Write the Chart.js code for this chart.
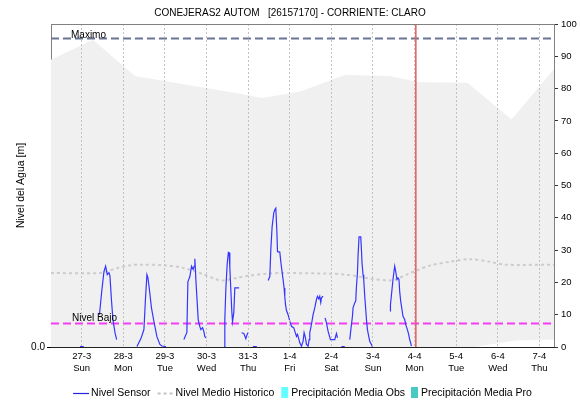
<!DOCTYPE html>
<html>
<head>
<meta charset="utf-8">
<script src="https://cdn.jsdelivr.net/npm/chart.js@4.4.1/dist/chart.umd.min.js"></script>
<style>
  html, body { margin: 0; padding: 0; background: #fff; }
  #wrap { width: 580px; height: 405px; position: relative; }
</style>
</head>
<body>
<div id="wrap"><canvas id="nivelChart"></canvas></div>
<script>
// dias desde 27-3 00:00
const dayLabels = ['27-3', '28-3', '29-3', '30-3', '31-3', '1-4', '2-4', '3-4', '4-4', '5-4', '6-4', '7-4'];
const weekDays = ['Sun', 'Mon', 'Tue', 'Wed', 'Thu', 'Fri', 'Sat', 'Sun', 'Mon', 'Tue', 'Wed', 'Thu'];
const dayMin = -0.737;
const dayMax = 11.35;
const nowDay = 8.03;
const rightTicks = [0, 10, 20, 30, 40, 50, 60, 70, 80, 90, 100];

const nivelMaximo = 95.5;
const nivelBajo = 7.3;

// sensor (null = sin dato)
const sensorDays = [
  -0.04, 0.05, 0.05,
  0.427, 0.487, 0.535, 0.576, 0.615, 0.655, 0.679, 0.715, 0.751, 0.80, 0.84, 0.84,
  1.328, 1.424, 1.496, 1.532, 1.568, 1.592, 1.628, 1.676, 1.736, 1.808, 1.88, 1.928, 2.024, 2.024,
  2.456, 2.528, 2.552, 2.60, 2.641, 2.679, 2.703, 2.72, 2.744, 2.768, 2.80, 2.84, 2.864, 2.905, 2.936, 2.96, 3.0, 3.0,
  3.424, 3.44, 3.464, 3.496, 3.525, 3.544, 3.56, 3.584, 3.608, 3.625, 3.656, 3.68, 3.784, 3.784,
  3.842, 3.897, 3.945, 3.976, 4.0, 4.0,
  4.113, 4.209, 4.209,
  4.48, 4.521, 4.545, 4.576, 4.617, 4.641, 4.665, 4.689, 4.706, 4.761, 4.785, 4.816, 4.84, 4.864, 4.881,
  4.898, 4.922, 4.96, 5.001, 5.042, 5.097, 5.121, 5.162, 5.186, 5.217, 5.241, 5.282, 5.321, 5.345, 5.378,
  5.402, 5.441, 5.465, 5.481, 5.522, 5.561, 5.601, 5.642, 5.666, 5.697, 5.721, 5.745, 5.762, 5.801, 5.801,
  5.849, 5.882, 5.921, 5.978, 6.082, 6.122, 6.146, 6.146,
  6.242, 6.322, 6.322,
  6.442, 6.483, 6.507, 6.521, 6.562, 6.586, 6.603, 6.627, 6.641, 6.665, 6.706, 6.723, 6.737, 6.761, 6.778,
  6.802, 6.826, 6.843, 6.867, 6.898, 6.922, 6.963, 6.987, 6.987,
  7.419, 7.42, 7.457, 7.481, 7.505, 7.522, 7.546, 7.577, 7.601, 7.625, 7.642, 7.666, 7.697, 7.721, 7.762,
  7.786, 7.827, 7.858, 7.882, 7.906, 7.923
];
const sensorLevel = [
  0.15, 0.15, null,
  10.0, 17.8, 23.3, 25.0, 22.4, 23.0, 22.1, 14.7, 8.5, 4.5, 2.3, null,
  0.15, 2.6, 5.4, 14.7, 22.4, 21.5, 17.8, 12.2, 7.9, 3.2, 0.8, 0.3, 0.15, null,
  2.3, 4.5, 20.2, 21.8, 25.0, 24.0, 25.0, 27.3, 20.9, 15.6, 8.5, 6.3, 5.4, 6.0, 4.8, 3.2, 2.8, null,
  0.15, 8.5, 17.8, 25.5, 29.3, 29.2, 24.6, 17.8, 11.0, 7.9, 10.7, 18.3, 18.3, null,
  4.4, 4.2, 2.6, 3.9, 4.5, null,
  0.15, 0.15, null,
  20.6, 21.8, 30.1, 37.2, 41.6, 42.5, 43.0, 36.3, 29.5, 29.4, 26.4, 23.3, 20.9, 18.3, 15.6,
  13.1, 11.3, 10.0, 8.0, 6.4, 5.9, 4.9, 3.3, 3.9, 2.5, 1.3, 0.25, 1.8, 4.4, 2.8,
  0.8, 0.25, 2.3, 4.4, 7.0, 10.0, 12.1, 14.7, 15.7, 14.9, 15.7, 13.8, 15.2, 15.7, null,
  9.0, 7.5, 4.9, 2.3, 2.3, 4.2, 2.8, null,
  0.1, 0.1, null,
  2.3, 7.0, 9.5, 12.1, 13.7, 14.2, 18.8, 22.9, 28.1, 34.1, 34.1, 30.1, 26.0, 22.4, 20.9,
  15.7, 11.6, 8.5, 5.4, 3.3, 1.8, 0.8, 0.1, null,
  11.1, 13.1, 17.8, 20.9, 23.4, 25.0, 23.4, 20.9, 21.4, 20.9, 17.2, 14.2, 11.6, 9.5, 8.5,
  7.0, 5.4, 3.9, 2.3, 1.3, 0.25
];

// nivel medio historico
const histDays = [-0.737, 0.439, 0.631, 0.848, 1.16, 1.40, 2.0, 2.432, 2.84, 3.225, 3.417, 3.73, 4.04, 4.45,
  4.833, 5.961, 6.37, 6.61, 6.922, 7.402, 7.57, 7.81, 8.05, 8.362, 8.842, 9.322, 9.802, 10.163, 11.35];
const histMean = [22.9, 22.9, 23.5, 24.4, 25.3, 25.5, 25.3, 24.5, 22.9, 21.0, 20.6, 21.4, 22.1, 22.7,
  22.9, 22.7, 22.4, 21.9, 21.2, 20.6, 21.1, 22.4, 23.7, 25.2, 26.4, 27.2, 26.4, 25.5, 25.5];

// banda historica (max / min)
const bandMaxDays = [-0.737, 0.271, 1.28, 3.80, 4.33, 5.24, 6.32, 7.40, 8.12, 9.27, 10.33, 11.35];
const bandMax = [88.9, 95.1, 83.9, 78.4, 77.1, 79.0, 84.2, 83.9, 82.0, 81.8, 70.4, 86.1];
const bandMinDays = [-0.737, 9.455, 10.04, 10.40, 11.35];
const bandMin = [0, 0, 1.2, 2.0, 2.3];

const font = "'Liberation Sans', Arial, sans-serif";
Chart.defaults.font.family = font;
Chart.defaults.color = '#000';

function toPoints(days, values) {
    return days.map(function (d, i) { return { x: d, y: values[i] }; });
}

const legendItems = [
    { text: 'Nivel Sensor', kind: 'line', color: '#2323e6', dash: [] },
    { text: 'Nivel Medio Historico', kind: 'line', color: '#c4c4c4', dash: [3, 3] },
    { text: 'Precipitación Media Obs', kind: 'box', color: '#66ffff' },
    { text: 'Precipitación Media Pro', kind: 'box', color: '#47c8c5' }
];

// bordes, etiquetas de niveles y leyenda
const extras = {
    id: 'extras',
    afterDraw(chart) {
        const ctx = chart.ctx;
        const area = chart.chartArea;
        const y = chart.scales.y1;
        ctx.save();
        ctx.strokeStyle = '#808080';
        ctx.lineWidth = 1;
        ctx.beginPath();
        ctx.moveTo(area.left, area.top + 0.5);
        ctx.lineTo(area.right, area.top + 0.5);
        ctx.stroke();

        ctx.font = '10px ' + font;
        ctx.fillStyle = '#000';
        ctx.textBaseline = 'alphabetic';
        ctx.textAlign = 'left';
        ctx.fillText('Maximo', area.left + 20, y.getPixelForValue(nivelMaximo) - 0.5);
        ctx.fillText('Nivel Bajo', area.left + 21, y.getPixelForValue(nivelBajo) - 2);

        // leyenda
        ctx.font = '10.5px ' + font;
        const widths = legendItems.map(function (it) {
            const sw = it.kind === 'line' ? 16 : 7;
            return sw + 3 + ctx.measureText(it.text).width;
        });
        const gap = 6;
        const total = widths.reduce(function (a, b) { return a + b; }, 0) + gap * (legendItems.length - 1);
        let x = (area.left + area.right) / 2 - total / 2;
        const cy = 393;
        ctx.textBaseline = 'middle';
        legendItems.forEach(function (it, i) {
            if (it.kind === 'line') {
                ctx.strokeStyle = it.color;
                ctx.lineWidth = it.dash.length ? 2 : 1.2;
                ctx.setLineDash(it.dash);
                ctx.beginPath();
                ctx.moveTo(x, cy + 0.5);
                ctx.lineTo(x + 16, cy + 0.5);
                ctx.stroke();
                ctx.setLineDash([]);
                ctx.fillText(it.text, x + 18, cy);
            } else {
                ctx.fillStyle = it.color;
                ctx.fillRect(x, cy - 6, 7, 11);
                ctx.fillStyle = '#000';
                ctx.fillText(it.text, x + 10, cy);
            }
            x += widths[i] + gap;
        });
        ctx.restore();
    }
};

const nivelChart = new Chart(document.getElementById('nivelChart').getContext('2d'), {
    type: 'line',
    data: {
        datasets: [
            {
                label: 'Nivel Sensor',
                data: toPoints(sensorDays, sensorLevel),
                borderColor: '#3535ff',
                borderWidth: 1.2,
                pointRadius: 0,
                spanGaps: false,
                yAxisID: 'y1'
            },
            {
                label: 'Ahora',
                data: [{ x: nowDay, y: 0 }, { x: nowDay, y: 100 }],
                borderColor: '#e85a5a',
                borderWidth: 1.5,
                pointRadius: 0,
                yAxisID: 'y1'
            },
            {
                label: 'Nivel Bajo',
                data: [{ x: dayMin, y: nivelBajo }, { x: dayMax, y: nivelBajo }],
                borderColor: '#f53cf5',
                borderWidth: 2,
                borderDash: [8, 4],
                pointRadius: 0,
                yAxisID: 'y1'
            },
            {
                label: 'Maximo',
                data: [{ x: dayMin, y: nivelMaximo }, { x: dayMax, y: nivelMaximo }],
                borderColor: '#6a7496',
                borderWidth: 2,
                borderDash: [8, 4],
                pointRadius: 0,
                yAxisID: 'y1'
            },
            {
                label: 'Nivel Medio Historico',
                data: toPoints(histDays, histMean),
                borderColor: '#cccccc',
                borderWidth: 2,
                borderDash: [3, 3],
                pointRadius: 0,
                tension: 0.3,
                yAxisID: 'y1'
            },
            {
                label: 'Max',
                data: toPoints(bandMaxDays, bandMax),
                borderWidth: 0,
                borderColor: 'rgba(0,0,0,0)',
                backgroundColor: '#f0f0f0',
                fill: '+1',
                pointRadius: 0,
                yAxisID: 'y1'
            },
            {
                label: 'Min',
                data: toPoints(bandMinDays, bandMin),
                borderWidth: 0,
                borderColor: 'rgba(0,0,0,0)',
                fill: false,
                pointRadius: 0,
                yAxisID: 'y1'
            }
        ]
    },
    options: {
        responsive: true,
        maintainAspectRatio: false,
        animation: false,
        layout: { padding: 0 },
        scales: {
            x: {
                type: 'linear',
                min: dayMin,
                max: dayMax,
                afterBuildTicks: function (axis) {
                    axis.ticks = dayLabels.map(function (l, i) { return { value: i }; });
                },
                afterFit: function (axis) { axis.height = 58; },
                ticks: {
                    autoSkip: false,
                    maxRotation: 0,
                    padding: 4,
                    font: { size: 9.5, lineHeight: 1.23 },
                    callback: function (v) { return [dayLabels[v], weekDays[v]]; }
                },
                grid: {
                    color: '#c2c2c2',
                    lineWidth: 1,
                    drawTicks: false,
                    z: 1
                },
                border: { color: '#222', width: 1, dash: [2, 2], z: 1 }
            },
            y: {
                position: 'left',
                min: 0,
                max: 100,
                afterBuildTicks: function (axis) { axis.ticks = [{ value: 0 }]; },
                afterFit: function (axis) { axis.width = 51; },
                ticks: {
                    padding: 2,
                    font: { size: 10 },
                    callback: function () { return '0.0'; }
                },
                grid: { drawOnChartArea: false, tickLength: 4, tickColor: '#000' },
                border: { color: '#808080' },
                title: {
                    display: true,
                    text: 'Nivel del Agua [m]',
                    font: { size: 10.5 },
                    padding: { top: 15, bottom: 0 }
                }
            },
            y1: {
                position: 'right',
                min: 0,
                max: 100,
                afterBuildTicks: function (axis) {
                    axis.ticks = rightTicks.map(function (v) { return { value: v }; });
                },
                afterFit: function (axis) { axis.width = 26; },
                ticks: { padding: 3, font: { size: 9.5 } },
                grid: { drawOnChartArea: false, tickLength: 4, tickColor: '#333' },
                border: { color: '#808080' }
            }
        },
        plugins: {
            legend: { display: false },
            tooltip: { enabled: false },
            title: {
                display: true,
                text: 'CONEJERAS2 AUTOM   [26157170] - CORRIENTE: CLARO',
                font: { size: 10, weight: 'normal' },
                color: '#000',
                padding: { top: 7, bottom: 5 }
            }
        }
    },
    plugins: [extras]
});
</script>
</body>
</html>
